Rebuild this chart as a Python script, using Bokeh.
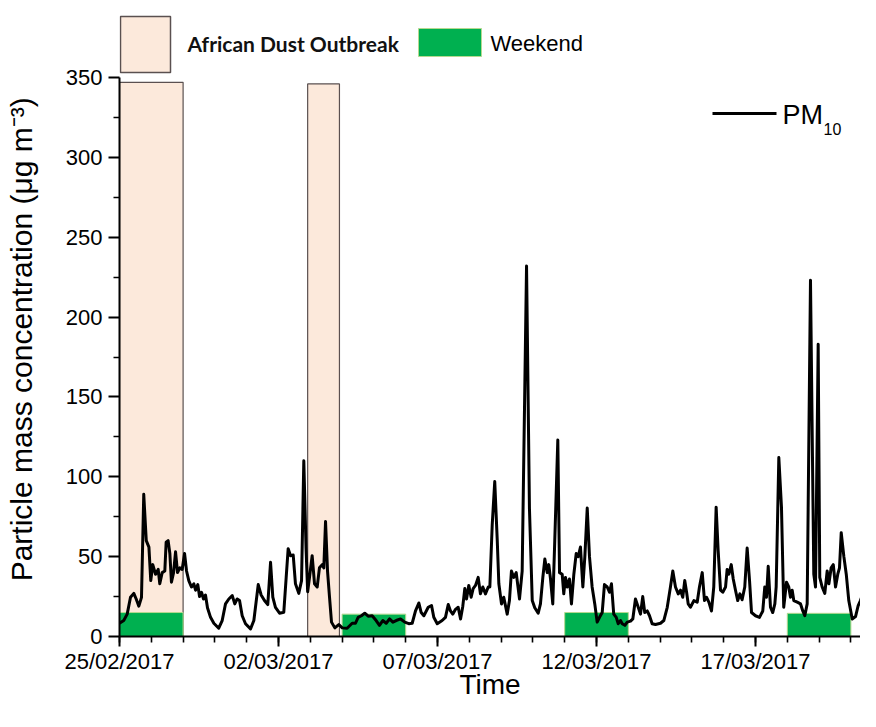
from datetime import datetime, timedelta
import pandas as pd
from bokeh.plotting import figure
from bokeh.models import Range1d, FixedTicker, DatetimeTickFormatter, Label
from bokeh.embed import file_html
from bokeh.resources import INLINE

START = datetime(2017, 2, 25)

# ---- data ----
hours = [0, 3.2, 5.8, 8.3, 10.8, 12.6, 14.6, 16.6, 18.3, 20.2, 22.2, 23.6, 25.1, 27.2, 29.2, 30.4,
         32.2, 34.2, 35.2, 36.7, 38.0, 39.2, 40.8, 42.3, 43.8, 45.5, 47.3, 49.1, 50.6, 52.3, 54.3,
         56.1, 57.4, 59.1, 60.4, 61.9, 63.4, 64.9, 66.4, 68.7, 71.2, 74.9, 77.5, 80.0, 82.5, 85.1,
         87.0, 88.8, 90.6, 92.6, 95.1, 98.9, 101.4, 104.7, 106.9, 109.4, 111.9, 114.0, 115.7, 117.7,
         120.8, 124.0, 125.8, 127.3, 129.1, 131.1, 132.8, 135.3, 137.4, 139.1, 140.8, 142.0, 143.4,
         145.4, 147.2, 149.2, 150.9, 153.0, 154.2, 155.5, 157.0, 158.5, 160.0, 162.5, 165.5, 168.1,
         171.8, 175.6, 178.1, 180.1, 182.6, 185.1, 187.7, 190.7, 193.7, 196.2, 198.7, 201.3, 203.8,
         206.3, 208.8, 212.1, 215.3, 218.3, 220.9, 223.4, 225.9, 227.7, 229.7, 233.0, 235.5, 237.2,
         239.8, 243.5, 246.0, 248.1, 249.8, 251.5, 253.6, 255.6, 257.4, 259.1, 260.6, 261.9, 263.6,
         265.4, 266.9, 268.7, 270.7, 272.4, 274.2, 276.2, 278.3, 279.5, 281.3, 283.2, 285.1, 286.3,
         288.3, 290.0, 292.6, 294.3, 295.8, 297.6, 299.4, 301.9, 303.9, 307.2, 309.4, 311.5, 313.4,
         316.0, 317.7, 319.5, 321.0, 322.8, 324.0, 325.3, 327.0, 328.5, 330.8, 332.1, 334.1, 335.3,
         336.6, 337.9, 339.6, 341.1, 342.9, 344.7, 346.2, 347.9, 349.7, 351.2, 353.0, 354.7, 356.7,
         358.7, 360.5, 362.3, 364.3, 366.0, 368.1, 369.8, 371.3, 373.0, 374.9, 376.4, 378.1, 379.4,
         381.4, 383.2, 385.7, 387.4, 389.4, 391.5, 393.2, 394.9, 396.4, 398.3, 400.0, 402.0, 404.5,
         408.3, 410.8, 413.4, 415.8, 417.6, 419.6, 421.7, 423.4, 425.1, 426.6, 428.0, 429.2, 430.9,
         433.5, 436.0, 437.7, 439.8, 441.5, 443.0, 444.8, 446.8, 448.5, 450.3, 451.8, 453.6, 455.3,
         457.4, 458.6, 459.9, 461.7, 463.2, 464.9, 466.6, 468.2, 469.9, 471.9, 473.7, 475.5, 477.0,
         480.0, 483.0, 485.5, 487.0, 488.3, 489.6, 491.3, 493.0, 494.6, 495.6, 497.6, 499.6, 501.3,
         503.4, 505.1, 506.4, 507.7, 508.9, 511.5, 514.0, 515.7, 517.2, 519.0, 521.5, 524.0, 525.3,
         527.3, 528.5, 530.3, 532.3, 534.1, 535.4, 537.1, 538.7, 540.4, 542.1, 543.4, 544.7, 546.7,
         548.5, 550.4, 553.0, 555.5, 557.5, 559.2, 561.0, 563.0, 564.3, 566.0, 568.1, 569.8, 571.3]
pm10 = [8.3, 10, 14, 24.6, 27, 23.5, 19, 24.5, 89, 60, 56, 35, 45, 39, 42, 33,
        40, 41, 59, 60, 52, 34, 40, 53, 40, 43, 42, 52, 41, 35, 31,
        33, 29, 32.5, 25, 27.7, 23.5, 26, 18, 12, 8.3, 5.2, 10, 20.4, 23.5, 25.6,
        20.4, 23.5, 22.5, 13, 8, 4.8, 10, 32.5, 26, 22.5, 20, 46.5, 24.6, 18.3,
        14.6, 15.2, 37, 55, 50.6, 51, 33, 27, 35, 110, 55, 28, 37,
        50.6, 33, 31, 43, 45, 43, 72, 41, 24.6, 9, 5.4, 7.5, 5.4,
        5.2, 8.3, 8.3, 12, 13, 14.6, 12.7, 13, 10, 7, 10, 8.3, 11,
        9, 10, 11, 9, 8, 8.3, 16, 21, 15, 13, 18.3, 19.4, 12,
        8, 10, 12, 20, 16, 14, 17, 18.3, 11, 19, 30, 23.5, 32,
        24.6, 30, 32, 37, 26.7, 31, 26.7, 31, 31, 70, 97, 60, 33,
        20.4, 24.6, 14, 22.5, 41, 37, 40, 23.5, 41, 232, 80, 22.5, 18,
        14.6, 20.4, 37, 48.5, 40, 45, 36, 20.4, 60, 123, 40, 39, 26.7,
        37, 31, 36, 20.4, 39, 52, 50, 56, 31, 50, 80.4, 50, 31,
        20.4, 9, 12, 15, 32.5, 31, 27.7, 33, 14, 12, 8, 10, 8,
        7, 9, 9.6, 11, 23.5, 18.3, 14, 25, 15, 16, 13, 8, 7.5,
        8.3, 10, 18.3, 31, 41, 31, 26.7, 29, 24.6, 35, 27.7, 20.4, 18.3,
        22.5, 21.5, 31, 40, 22.5, 24.6, 21.5, 16, 31, 81, 54, 29, 27.7,
        31, 42, 39, 45, 36, 29, 22.5, 26.7, 23, 31, 55.4, 35, 15,
        13, 12, 16, 31, 24.6, 44, 18.3, 15, 20.4, 31, 112, 81, 18.3,
        34, 31, 24.6, 29, 22.5, 21.5, 20.4, 16, 13, 20.4, 223, 39, 31,
        183, 37, 31, 27, 41, 33, 43, 45, 31, 39, 43, 65, 50,
        39, 22.5, 11, 12.5, 19.4, 22.5, 26.7, 35, 30, 20.4, 43, 73.5, 56]

dust_start = ["2017-02-25 00:00", "2017-03-02 22:00"]
dust_end = ["2017-02-27 00:00", "2017-03-03 22:00"]
dust_top = [347, 346]

weekend_start = ["2017-02-25", "2017-03-04", "2017-03-11", "2017-03-18"]
weekend_end = ["2017-02-27", "2017-03-06", "2017-03-13", "2017-03-20"]
weekend_top = [15, 14, 15, 14.5]

y_ticks = [0, 50, 100, 150, 200, 250, 300, 350]
y_minor = [25, 75, 125, 175, 225, 275, 325]
x_tick_dates = ["2017-02-25", "2017-03-02", "2017-03-07", "2017-03-12", "2017-03-17"]

# ---- helpers ----
EPOCH = datetime(1970, 1, 1)


def ms(d):
    return (pd.Timestamp(d).to_pydatetime() - EPOCH).total_seconds() * 1000.0


times = [START + timedelta(hours=h) for h in hours]

# layout (page px): frame x 119..860, y 0..636 ; 25/02 at x=119, 31.8 px/day; 350 at y=77
W, H = 860, 711
FL, FB = 119, 636
PX_DAY = 31.8
Y_SCALE = 350 / 559.0
X_END = START + timedelta(days=(W - FL) / PX_DAY)
Y_END = FB * Y_SCALE


def lx(px):
    return START + timedelta(days=(px - FL) / PX_DAY)


def ly(py):
    return (FB - py) * Y_SCALE


p = figure(width=W, height=H, x_axis_type="datetime",
           x_range=Range1d(START, X_END), y_range=Range1d(0, Y_END),
           output_backend="svg", toolbar_location=None,
           min_border_left=FL, min_border_right=0, min_border_top=0, min_border_bottom=H - FB)
p.outline_line_color = None
p.grid.visible = False
p.background_fill_color = "white"

# dust periods
p.quad(left=pd.to_datetime(dust_start), right=pd.to_datetime(dust_end), bottom=0, top=dust_top,
       fill_color="#FCE9DB", line_color="#5a5050", line_width=1.2)
# weekends
p.quad(left=pd.to_datetime(weekend_start), right=pd.to_datetime(weekend_end), bottom=0, top=weekend_top,
       fill_color="#00B050", line_color="#b5d98f", line_width=1)
# PM10 series
p.line(x=times, y=pm10, line_color="black", line_width=3, line_join="round")

# ---- legends ----
p.quad(left=[lx(120)], right=[lx(170)], top=[ly(16)], bottom=[ly(72)],
       fill_color="#FCE9DB", line_color="#5a5050", line_width=1.5)
p.add_layout(Label(x=ms(lx(187)), y=ly(43), text="African Dust Outbreak", text_font="Lato",
                   text_font_size="21px", text_font_style="bold", text_color="#111111",
                   text_baseline="middle", text_align="left"))
p.quad(left=[lx(418)], right=[lx(481)], top=[ly(28)], bottom=[ly(56)],
       fill_color="#00B050", line_color="#b5d98f", line_width=1)
p.add_layout(Label(x=ms(lx(490)), y=ly(43), text="Weekend", text_font="Liberation Sans",
                   text_font_size="22px", text_color="black",
                   text_baseline="middle", text_align="left"))
p.line(x=[lx(712), lx(776)], y=[ly(113), ly(113)], line_color="black", line_width=3)
p.add_layout(Label(x=ms(lx(782)), y=ly(114), text="PM", text_font="Liberation Sans",
                   text_font_size="27px", text_color="black",
                   text_baseline="middle", text_align="left"))
p.add_layout(Label(x=ms(lx(823)), y=ly(128), text="10", text_font="Liberation Sans",
                   text_font_size="16px", text_color="black",
                   text_baseline="middle", text_align="left"))

# ---- axes ----
yax = p.yaxis[0]
yax.bounds = (0, 350)
yax.ticker = FixedTicker(ticks=y_ticks, minor_ticks=y_minor)
# trailing no-break spaces push the centred title down to the middle of the 0-350 span
yax.axis_label = "Particle mass concentration (\u03bcg m\u207b\u00b3)" + "\u00a0" * 5
xax = p.xaxis[0]
xax.ticker = FixedTicker(ticks=[ms(d) for d in x_tick_dates],
                         minor_ticks=[ms(START + timedelta(days=i)) for i in range(0, 24)])
xax.formatter = DatetimeTickFormatter(days="%d/%m/%Y", months="%d/%m/%Y", years="%d/%m/%Y",
                                      hours="%d/%m/%Y", minutes="%d/%m/%Y")
xax.axis_label = "Time"

for ax in (xax, yax):
    ax.axis_line_color = "black"
    ax.axis_line_width = 2
    ax.major_tick_line_color = "black"
    ax.major_tick_line_width = 2
    ax.minor_tick_line_color = "black"
    ax.minor_tick_line_width = 1.6
    ax.major_tick_in = 0
    ax.minor_tick_in = 0
    ax.major_label_text_font = "Liberation Sans"
    ax.major_label_text_font_size = "22px"
    ax.major_label_text_color = "black"
    ax.axis_label_text_font = "Liberation Sans"
    ax.axis_label_text_font_style = "normal"
    ax.axis_label_text_color = "black"

yax.major_tick_out = 11
yax.minor_tick_out = 6
yax.major_label_standoff = 6
yax.axis_label_text_font_size = "30px"
yax.axis_label_standoff = 25
xax.major_tick_out = 10
xax.minor_tick_out = 6
xax.major_label_standoff = 2
xax.axis_label_text_font_size = "28px"
xax.axis_label_standoff = -8

open("out.html", "w").write(file_html(p, INLINE))
